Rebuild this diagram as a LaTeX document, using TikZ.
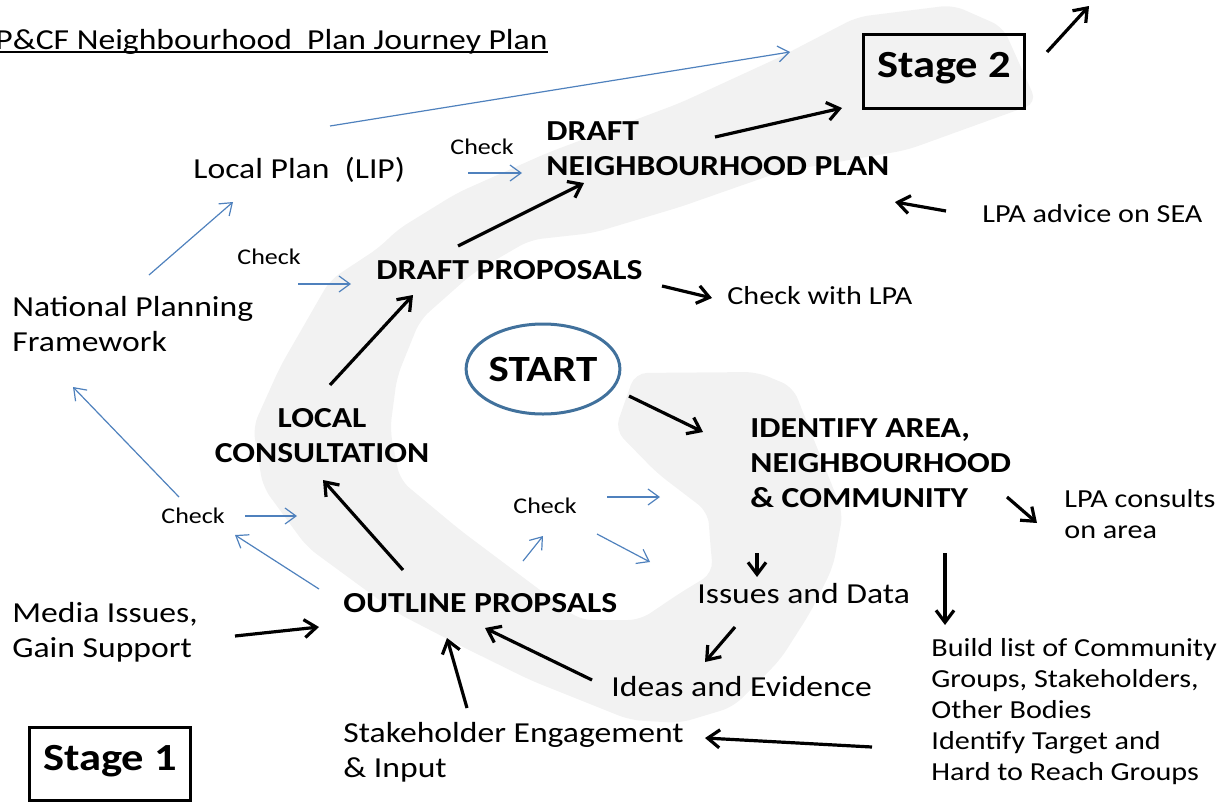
\documentclass[tikz,border=0pt]{standalone}
\usepackage{fontspec}
\setmainfont{Carlito}[FakeStretch=1.16]
\usetikzlibrary{arrows.meta,shapes.geometric}
\definecolor{bandgray}{HTML}{F2F2F2}
\definecolor{chkblue}{HTML}{4F81BD}
\definecolor{startblue}{HTML}{41719C}
\tikzset{
  txt/.style={inner sep=0pt, anchor=base west, align=left, font=\fontsize{14.5}{17.5}\selectfont},
  sm/.style={txt, font=\fontsize{13}{15.5}\selectfont},
  hd/.style={txt, font=\fontsize{14.5}{17.5}\selectfont\bfseries},
  chk/.style={inner sep=0pt, anchor=base west, font=\fontsize{11.2}{13}\selectfont},
  blk/.style={line width=1.6pt, black, -{Straight Barb[length=6pt,width=9pt]}},
  blu/.style={line width=0.6pt, chkblue, -{Straight Barb[length=5.5pt,width=8pt]}},
  stagebox/.style={draw, line width=1.5pt, inner sep=0pt, anchor=base, minimum width=80.5pt,
    font=\fontsize{19.2}{22}\selectfont\bfseries},
}
\begin{document}
\begin{tikzpicture}[x=0.5pt,y=-0.5pt]
\useasboundingbox (0,0) rectangle (1229,803);
% grey spiral band
\fill[bandgray, rounded corners=6pt]
  (635,373) -- (757,372) -- (793,387) -- (843,513) -- (833,567) -- (810,613) -- (780,660)
  -- (733,707) -- (680,723) -- (630,720) -- (530,680) -- (463,647) -- (397,613) -- (307,547)
  -- (263,487) -- (253,427) -- (280,367) -- (330,280) -- (380,247) -- (397,230) -- (457,193)
  -- (547,153) -- (680,103) -- (780,57) -- (857,17) -- (953,5) -- (1003,27) -- (1037,103)
  -- (907,150) -- (780,172) -- (680,207) -- (593,233) -- (530,240) -- (473,273) -- (420,320)
  -- (397,377) -- (390,430) -- (400,480) -- (460,530) -- (580,620) -- (640,620) -- (680,593)
  -- (713,573) -- (710,540) -- (708,512) -- (657,473) -- (615,430) -- cycle;

% title
\node[txt, anchor=base east] (title) at (548,49) {P\&CF Neighbourhood\ \ Plan Journey Plan};
\draw[line width=0.75pt] ([yshift=-1.6pt]title.base west) -- ([yshift=-1.6pt]title.base east);

% text nodes (base anchor = baseline of last line)
\node[txt] (lip) at (193,178) {Local Plan\ \ (LIP)};
\node[chk] (chk1) at (450,154) {Check};
\node[chk] (chk2) at (237,264) {Check};
\node[txt] (npf) at (12,351) {National Planning\\Framework};
\node[hd] (dnp) at (546,175) {DRAFT\\NEIGHBOURHOOD PLAN};
\node[hd] (dp) at (376,279) {DRAFT PROPOSALS};
\node[sm] (cwl) at (727,304) {Check with LPA};
\node[sm] (lpasea) at (982,222) {LPA advice on SEA};
\node[stagebox, text height=21.5pt, text depth=15.5pt] (stage2) at (944,77) {Stage 2};
\node[draw=startblue, line width=1.5pt, ellipse, minimum width=76pt, minimum height=45pt,
  inner sep=0pt, font=\fontsize{18.5}{20}\selectfont\bfseries] (start) at (543,369) {START};
\node[hd] (ida) at (750,507) {IDENTIFY AREA,\\NEIGHBOURHOOD\\\&\ COMMUNITY};
\node[sm] (lpac) at (1064,538) {LPA consults\\on area};
\node[hd, anchor=base, align=center] (lc) at (322,462) {LOCAL\\CONSULTATION};
\node[chk] (chk3) at (161,523) {Check};
\node[chk] (chk4) at (513,513) {Check};
\node[hd] (op) at (343,612) {OUTLINE PROPSALS};
\node[txt] (iad) at (697,603) {Issues and Data};
\node[txt] (ide) at (611,696) {Ideas and Evidence};
\node[txt] (media) at (12,657) {Media Issues,\\Gain Support};
\node[txt] (seng) at (343,777) {Stakeholder Engagement\\\&\ Input};
\node[sm] (build) at (931,780)
  {Build list of Community\\Groups, Stakeholders,\\Other Bodies\\Identify Target and\\Hard to Reach Groups};
\node[stagebox, text height=21.5pt, text depth=15pt] (stage1) at (110,770) {Stage 1};

% arrow end points
\coordinate (a1) at (1047,52);  \coordinate (a2) at (1089,6);
\coordinate (b1) at (715,137);  \coordinate (b2) at (842,108);
\coordinate (c1) at (946,211);  \coordinate (c2) at (895,202);
\coordinate (d1) at (458,246);  \coordinate (d2) at (584,183);
\coordinate (e1) at (662,286);  \coordinate (e2) at (712,298);
\coordinate (f1) at (330,385);  \coordinate (f2) at (413,295);
\coordinate (g1) at (403,570);  \coordinate (g2) at (323,480);
\coordinate (h1) at (629,396);  \coordinate (h2) at (703,432);
\coordinate (i1) at (1007,497); \coordinate (i2) at (1037,523);
\coordinate (j1) at (757,553);  \coordinate (j2) at (757,577);
\coordinate (k1) at (945,553);  \coordinate (k2) at (945,625);
\coordinate (l1) at (735,627);  \coordinate (l2) at (705,662);
\coordinate (m1) at (592,680);  \coordinate (m2) at (485,628);
\coordinate (n1) at (467,708);  \coordinate (n2) at (447,638);
\coordinate (o1) at (235,636);  \coordinate (o2) at (319,627);
\coordinate (p1) at (872,747);  \coordinate (p2) at (705,738);

\coordinate (q1) at (330,126);  \coordinate (q2) at (790,52);
\coordinate (r1) at (468,173);  \coordinate (r2) at (522,173);
\coordinate (s1) at (149,275);  \coordinate (s2) at (233,202);
\coordinate (t1) at (298,284);  \coordinate (t2) at (351,284);
\coordinate (u1) at (179,497);  \coordinate (u2) at (73,387);
\coordinate (v1) at (245,516);  \coordinate (v2) at (297,516);
\coordinate (w1) at (319,589);  \coordinate (w2) at (235,535);
\coordinate (x1) at (523,561);  \coordinate (x2) at (543,536);
\coordinate (y1) at (607,497);  \coordinate (y2) at (660,497);
\coordinate (z1) at (597,534);  \coordinate (z2) at (650,562);

% black arrows
\foreach \s in {a,b,c,d,e,f,g,h,i,j,k,l,m,n,o,p}
  \draw[blk] (\s1) -- (\s2);
% blue arrows
\foreach \s in {q,r,s,t,u,v,w,x,y,z}
  \draw[blu] (\s1) -- (\s2);
\end{tikzpicture}
\end{document}
